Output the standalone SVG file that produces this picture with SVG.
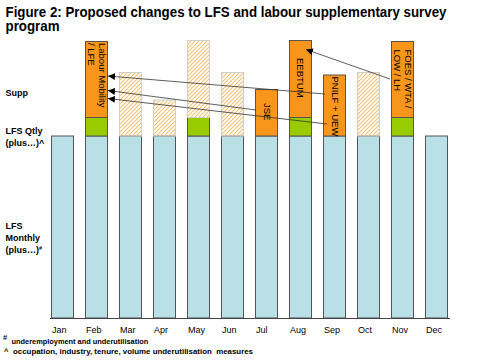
<svg xmlns="http://www.w3.org/2000/svg" width="480" height="360" viewBox="0 0 480 360">
<defs>
<pattern id="hatch" patternUnits="userSpaceOnUse" width="4" height="4">
<path d="M-1,1 L1,-1 M0,4 L4,0 M3,5 L5,3" stroke="#f6c170" stroke-width="1.1"/>
</pattern>
<marker id="ah" viewBox="0 0 10 10" refX="10" refY="5" markerWidth="7" markerHeight="7" markerUnits="userSpaceOnUse" orient="auto">
<path d="M0,0 L10,5 L0,10 z" fill="#000"/>
</marker>
<style>
.t{font-family:"Liberation Sans",Arial,sans-serif;fill:#000}
.title{font-size:14.5px;font-weight:bold}
.side{font-size:9px;font-weight:bold}
.mon{font-size:9px}
.foot{font-size:7.4px;font-weight:bold;white-space:pre}
.lab{font-size:9.5px}
.blue{fill:#b8e0e6;stroke:#555;stroke-width:1}
.orange{fill:#f7961a;stroke:#555;stroke-width:1}
.green{fill:#99cc00;stroke:#555;stroke-width:1}
.hatch{fill:url(#hatch);stroke:#cfcfcf;stroke-width:1}
.conn{stroke:#333;stroke-width:0.8;fill:none;marker-end:url(#ah)}
</style>
</defs>
<rect width="480" height="360" fill="#fff"/>
<text class="t title" x="5.5" y="17" textLength="441" lengthAdjust="spacingAndGlyphs">Figure 2: Proposed changes to LFS and labour supplementary survey</text>
<text class="t title" x="5.5" y="31" textLength="54" lengthAdjust="spacingAndGlyphs">program</text>
<g id="row-labels">
<text class="t side" x="5.5" y="96">Supp</text>
<text class="t side" x="5.5" y="134">LFS Qtly</text>
<text class="t side" x="5.5" y="146">(plus…)^</text>
<text class="t side" x="5.5" y="229">LFS</text>
<text class="t side" x="5.5" y="241">Monthly</text>
<text class="t side" x="5.5" y="253">(plus…)<tspan font-size="5.5" dy="-3">#</tspan></text>
</g>
<g id="jan"><rect class="blue" x="51.5" y="136" width="22" height="182"/><text class="t mon" x="52" y="332.5">Jan</text></g>
<g id="feb"><rect class="blue" x="85.5" y="136" width="22" height="182"/><rect class="green" x="85.5" y="117.5" width="22" height="18.5"/><rect class="orange" x="85.5" y="41.5" width="22" height="76"/>
<text class="t lab" transform="translate(98.5,43) rotate(90)">Labour Mobility</text><text class="t lab" transform="translate(88,43) rotate(90)">/ LFE</text>
<text class="t mon" x="86" y="332.5">Feb</text></g>
<g id="mar"><rect class="blue" x="119.5" y="136" width="22" height="182"/><rect class="hatch" x="119.5" y="72.5" width="22" height="63.5"/><text class="t mon" x="120" y="332.5">Mar</text></g>
<g id="apr"><rect class="blue" x="153.5" y="136" width="22" height="182"/><rect class="hatch" x="153.5" y="100" width="22" height="36"/><text class="t mon" x="154" y="332.5">Apr</text></g>
<g id="may"><rect class="blue" x="187.5" y="136" width="22" height="182"/><rect class="green" x="187.5" y="117.5" width="22" height="18.5"/><rect class="hatch" x="187.5" y="40.5" width="22" height="77"/><text class="t mon" x="188" y="332.5">May</text></g>
<g id="jun"><rect class="blue" x="221.5" y="136" width="22" height="182"/><rect class="hatch" x="221.5" y="72.5" width="22" height="63.5"/><text class="t mon" x="222" y="332.5">Jun</text></g>
<g id="jul"><rect class="blue" x="255.5" y="136" width="22" height="182"/><rect class="orange" x="255.5" y="89.5" width="22" height="46.5"/>
<text class="t lab" transform="translate(264,103) rotate(90)">JSE</text>
<text class="t mon" x="256" y="332.5">Jul</text></g>
<g id="aug"><rect class="blue" x="289.5" y="136" width="22" height="182"/><rect class="green" x="289.5" y="117.5" width="22" height="18.5"/><rect class="orange" x="289.5" y="40.5" width="22" height="77"/>
<text class="t lab" transform="translate(297,58) rotate(90)">EEBTUM</text>
<text class="t mon" x="290" y="332.5">Aug</text></g>
<g id="sep"><rect class="blue" x="323.5" y="136" width="22" height="182"/><rect class="orange" x="323.5" y="75" width="22" height="61"/>
<text class="t lab" transform="translate(331.5,76.5) rotate(90)">PNILF + UEW</text>
<text class="t mon" x="324" y="332.5">Sep</text></g>
<g id="oct"><rect class="blue" x="357.5" y="136" width="22" height="182"/><rect class="hatch" x="357.5" y="72.5" width="22" height="63.5"/><text class="t mon" x="358" y="332.5">Oct</text></g>
<g id="nov"><rect class="blue" x="391.5" y="136" width="22" height="182"/><rect class="green" x="391.5" y="117.5" width="22" height="18.5"/><rect class="orange" x="391.5" y="41.5" width="22" height="76"/>
<text class="t lab" transform="translate(404.5,49.5) rotate(90)">FOES / WTA /</text><text class="t lab" transform="translate(393.5,49.5) rotate(90)">LOW / LH</text>
<text class="t mon" x="392" y="332.5">Nov</text></g>
<g id="dec"><rect class="blue" x="425.5" y="136" width="22" height="182"/><text class="t mon" x="426" y="332.5">Dec</text></g>
<line x1="50" y1="318.5" x2="450" y2="318.5" stroke="#444" stroke-width="1"/>
<g id="connectors">
<line class="conn" x1="325" y1="94" x2="108" y2="76"/>
<line class="conn" x1="256" y1="110" x2="108" y2="90.5"/>
<line class="conn" x1="327" y1="124" x2="108" y2="98.5"/>
<line class="conn" x1="390" y1="79" x2="306" y2="49.5"/>
</g>
<g id="footnotes">
<text class="t foot" x="3" y="340" font-size="5.5">#</text>
<text class="t foot" x="11.5" y="343.5">underemployment and underutilisation</text>
<text class="t foot" x="4" y="353.5">^</text>
<text class="t foot" x="13" y="353.5" textLength="240" lengthAdjust="spacingAndGlyphs">occupation, industry, tenure, volume underutilisation  measures</text>
</g>
</svg>
